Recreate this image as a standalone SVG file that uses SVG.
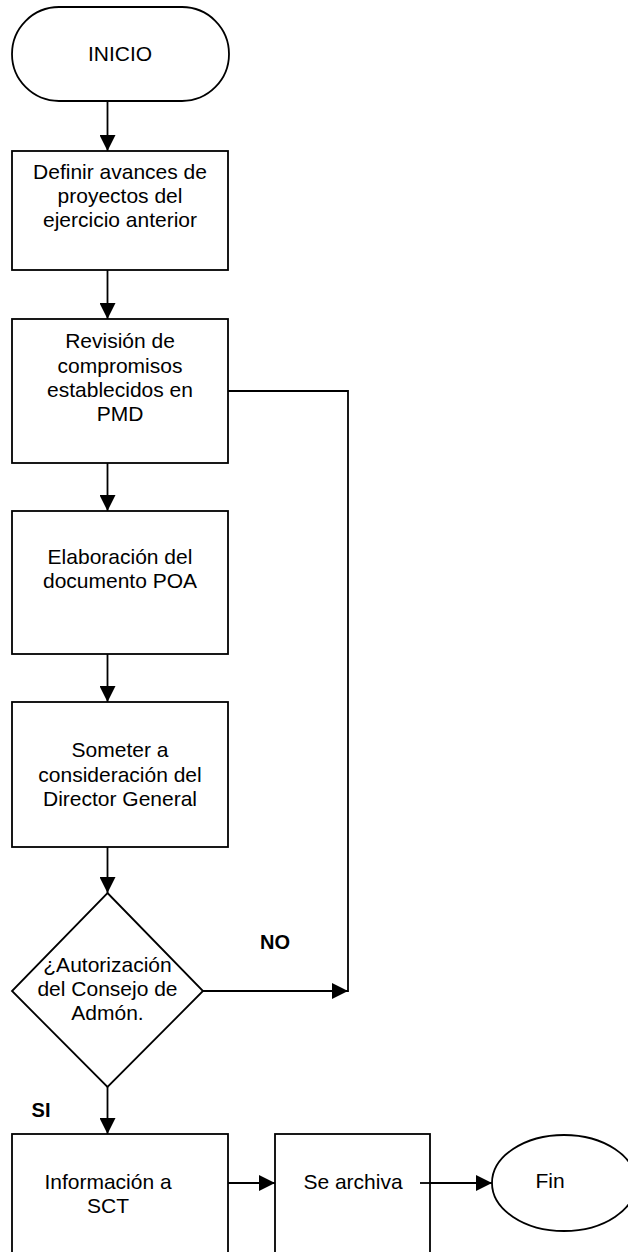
<svg xmlns="http://www.w3.org/2000/svg" width="628" height="1252" viewBox="0 0 628 1252">
  <defs>
    <marker id="arrow" markerUnits="userSpaceOnUse" markerWidth="16" markerHeight="16" viewBox="0 0 16 16" refX="16" refY="8" orient="auto">
      <path d="M0,0 L16,8 L0,16 Z" fill="#000"/>
    </marker>
    <style>
      .shape { fill: #fff; stroke: #000; stroke-width: 1.8; }
      .line { fill: none; stroke: #000; stroke-width: 1.8; }
      .lbl { font-family: "Liberation Sans", Arial, sans-serif; font-size: 21px; fill: #000; text-anchor: middle; }
      .tag { font-family: "Liberation Sans", Arial, sans-serif; font-size: 20px; font-weight: bold; fill: #000; text-anchor: middle; }
    </style>
  </defs>
  <rect width="628" height="1252" fill="#fff"/>

  <!-- connectors -->
  <g id="connectors">
    <line class="line" x1="107.5" y1="101" x2="107.5" y2="151" marker-end="url(#arrow)"/>
    <line class="line" x1="107.5" y1="270" x2="107.5" y2="319" marker-end="url(#arrow)"/>
    <line class="line" x1="107.5" y1="463" x2="107.5" y2="511" marker-end="url(#arrow)"/>
    <line class="line" x1="107.5" y1="654" x2="107.5" y2="702" marker-end="url(#arrow)"/>
    <line class="line" x1="107.5" y1="847" x2="107.5" y2="893" marker-end="url(#arrow)"/>
    <line class="line" x1="107.5" y1="1087" x2="107.5" y2="1134" marker-end="url(#arrow)"/>
    <polyline class="line" points="228,391 348,391 348,992"/>
    <line class="line" x1="203" y1="991" x2="348" y2="991" marker-end="url(#arrow)"/>
    <line class="line" x1="228" y1="1183" x2="275" y2="1183" marker-end="url(#arrow)"/>
    <line class="line" x1="420" y1="1183" x2="492" y2="1183" marker-end="url(#arrow)"/>
    <text class="tag" x="275" y="949">NO</text>
    <text class="tag" x="41" y="1117">SI</text>
  </g>

  <g id="inicio">
    <rect class="shape" x="12" y="7" width="217" height="94" rx="47" ry="47"/>
    <text class="lbl" x="120" y="61">INICIO</text>
  </g>

  <g id="definir">
    <rect class="shape" x="12" y="151" width="216" height="119"/>
    <text class="lbl" x="120" y="179">Definir avances de</text>
    <text class="lbl" x="120" y="203">proyectos del</text>
    <text class="lbl" x="120" y="227">ejercicio anterior</text>
  </g>

  <g id="revision">
    <rect class="shape" x="12" y="319" width="216" height="144"/>
    <text class="lbl" x="120" y="348">Revisión de</text>
    <text class="lbl" x="120" y="372.5">compromisos</text>
    <text class="lbl" x="120" y="397">establecidos en</text>
    <text class="lbl" x="120" y="421">PMD</text>
  </g>

  <g id="elaboracion">
    <rect class="shape" x="12" y="511" width="216" height="143"/>
    <text class="lbl" x="120" y="564">Elaboración del</text>
    <text class="lbl" x="120" y="588">documento POA</text>
  </g>

  <g id="someter">
    <rect class="shape" x="12" y="702" width="216" height="145"/>
    <text class="lbl" x="120" y="757">Someter a</text>
    <text class="lbl" x="120" y="782">consideración del</text>
    <text class="lbl" x="120" y="806">Director General</text>
  </g>

  <g id="autorizacion">
    <polygon class="shape" points="107.5,893 203,991 107.5,1087 12,991"/>
    <text class="lbl" x="107.5" y="972">¿Autorización</text>
    <text class="lbl" x="107.5" y="996">del Consejo de</text>
    <text class="lbl" x="107.5" y="1020">Admón.</text>
  </g>

  <g id="informacion">
    <rect class="shape" x="12" y="1134" width="216" height="130"/>
    <text class="lbl" x="108" y="1189">Información a</text>
    <text class="lbl" x="108" y="1213">SCT</text>
  </g>

  <g id="archiva">
    <rect class="shape" x="275" y="1134" width="155" height="130"/>
    <text class="lbl" x="353" y="1189">Se archiva</text>
  </g>
  <line class="line" x1="420" y1="1183" x2="430" y2="1183"/>

  <g id="fin">
    <ellipse class="shape" cx="564" cy="1183" rx="72" ry="48"/>
    <text class="lbl" x="550" y="1188">Fin</text>
  </g>
</svg>
